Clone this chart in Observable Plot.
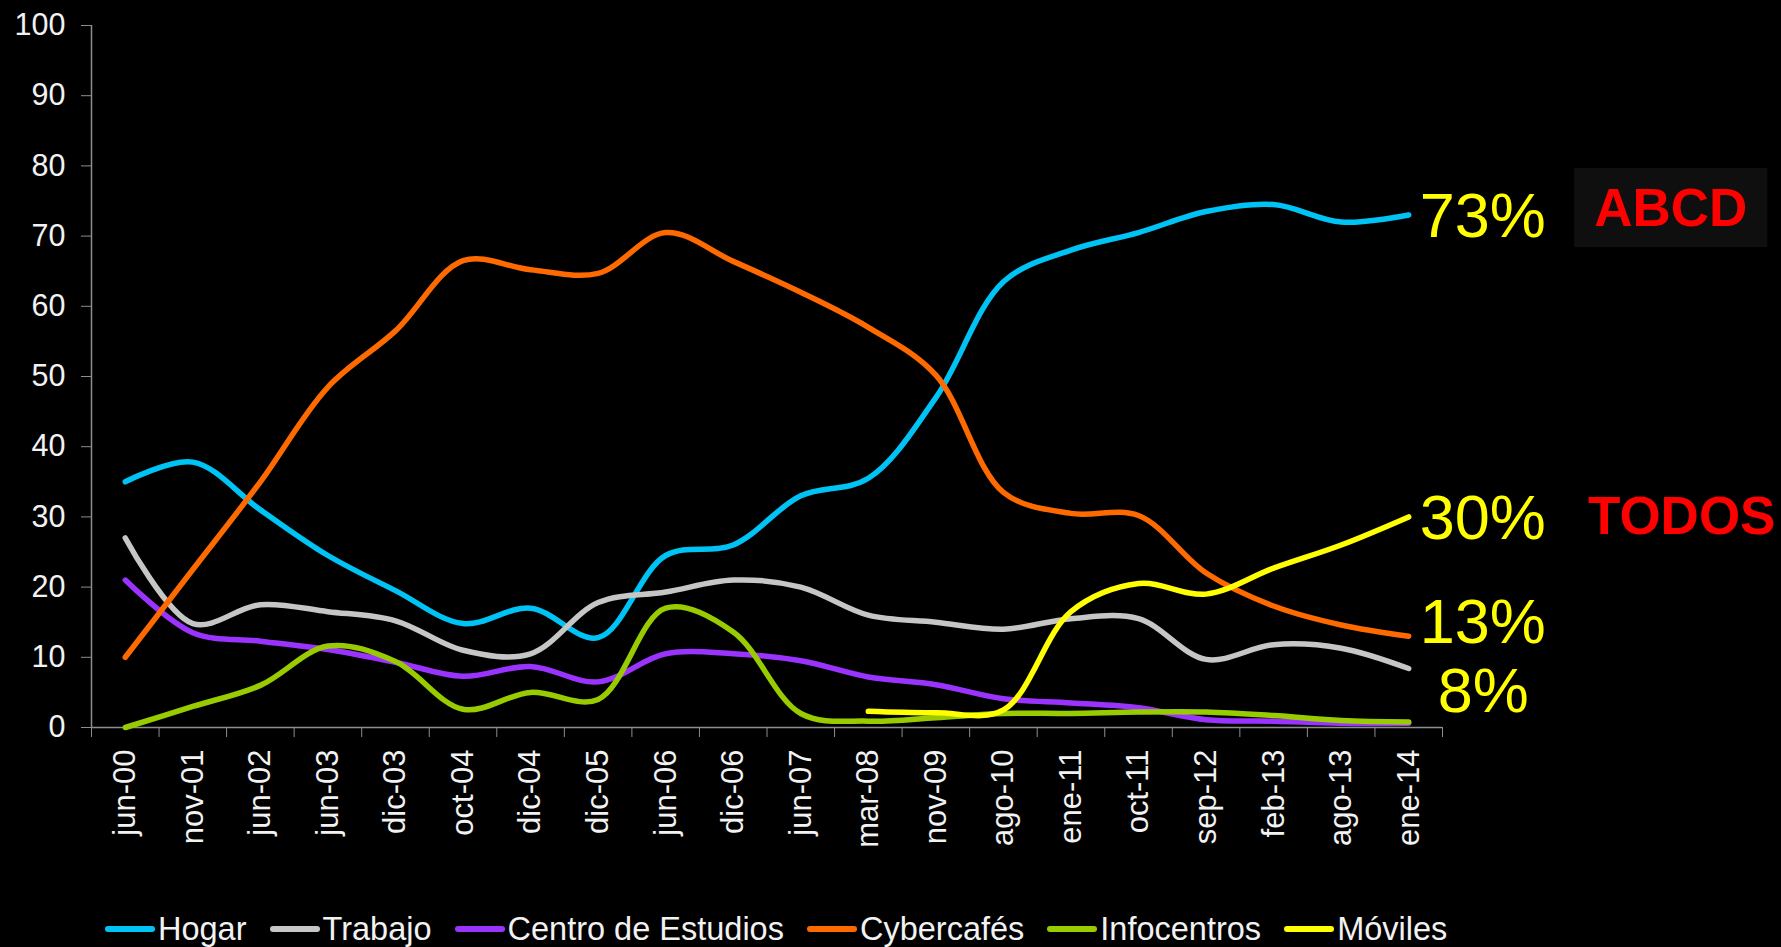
<!DOCTYPE html>
<html><head><meta charset="utf-8">
<script src="https://cdn.jsdelivr.net/npm/d3@7"></script>
<script src="https://cdn.jsdelivr.net/npm/@observablehq/plot@0.6"></script>
<style>
html,body{margin:0;padding:0;background:#000;}
body{width:1781px;height:947px;overflow:hidden;position:relative;font-family:"Liberation Sans",Arial,sans-serif;}
#chart{position:absolute;left:0;top:0;}
#legend{position:absolute;left:105px;top:907px;display:flex;align-items:center;color:#f2f2f2;font-size:32.5px;line-height:44px;white-space:nowrap;}
.item{display:flex;align-items:center;margin-right:23px;}
.sw{display:inline-block;width:50px;height:6px;border-radius:3px;margin-right:3px;}
</style>
</head><body>
<div id="chart"></div>
<div id="legend"></div>
<script>
// ---- data ----
const periods = ["jun-00","nov-01","jun-02","jun-03","dic-03","oct-04","dic-04","dic-05","jun-06","dic-06","jun-07","mar-08","nov-09","ago-10","ene-11","oct-11","sep-12","feb-13","ago-13","ene-14"];
const hogar    = [35, 37.8, 31, 24.5, 19.5, 14.8, 17, 12.8, 24.5, 26, 33, 35.5, 47, 63.5, 68, 70.5, 73.5, 74.5, 72, 73];
const trabajo  = [27, 14.8, 17.5, 16.5, 15.2, 11, 10.5, 17.8, 19.3, 21, 20, 16, 15, 14, 15.5, 15.5, 9.7, 11.8, 11.3, 8.4];
const centro   = [21, 13.5, 12.3, 11.1, 9.3, 7.3, 8.7, 6.5, 10.5, 10.5, 9.5, 7.2, 6.1, 4.1, 3.5, 2.8, 1.1, 0.9, 0.6, 0.6];
const cyber    = [10, 22.5, 35, 48.5, 56.5, 66.5, 65.2, 64.7, 70.5, 66.4, 62, 57, 50.2, 33.5, 30.5, 30.2, 22, 17.3, 14.6, 13];
const info     = [0, 3, 6, 11.6, 9.4, 2.6, 5, 4, 17, 13.6, 2, 0.9, 1.4, 2, 2, 2.2, 2.2, 1.7, 1, 0.8];
const moviles  = [null, null, null, null, null, null, null, null, null, null, null, 2.3, 2.1, 2.5, 16.5, 20.5, 19, 22.7, 26, 30];
const seriesNames  = ["Hogar","Trabajo","Centro de Estudios","Cybercafés","Infocentros","Móviles"];
const seriesValues = [hogar, trabajo, centro, cyber, info, moviles];
const seriesColors = ["#00c3f5","#c6c6c6","#9b33ff","#ff6a00","#99cc00","#ffff00"];
const yTicks = d3.range(0, 101, 10);
const groupA = "ABCD";
const groupB = "TODOS";

// ---- table ----
const rows = [];
seriesNames.forEach((name, k) => seriesValues[k].forEach((v, i) => { if (v != null) rows.push({serie: name, i, v}); }));
const last = periods.length - 1;
const pct = d => Math.round(d) + "%";
const axisGrey = "#8e8e8e";
const txt = "#f2f2f2";

const chart = Plot.plot({
  width: 1781, height: 880,
  marginLeft: 91, marginRight: 339, marginTop: 25, marginBottom: 153,
  style: {background: "#000", color: txt, fontFamily: "'Liberation Sans', Arial, sans-serif", overflow: "visible"},
  x: {type: "linear", domain: [-0.5, periods.length - 0.5]},
  y: {domain: [0, 100]},
  color: {domain: seriesNames, range: seriesColors},
  marks: [
    Plot.axisY({ticks: yTicks, tickSize: 10, tickPadding: 16, fontSize: 30.5, stroke: axisGrey, fill: txt, label: null}),
    Plot.axisX({ticks: d3.range(-0.5, periods.length, 1), tickSize: 10, tickFormat: () => "", stroke: axisGrey, label: null}),
    Plot.axisX({ticks: d3.range(periods.length), tickSize: 0, tickPadding: 22, tickRotate: -90, tickFormat: i => periods[i], fontSize: 31, fill: txt, label: null}),
    Plot.ruleX([-0.5], {stroke: axisGrey, strokeWidth: 1.5}),
    Plot.ruleY([0], {stroke: axisGrey, strokeWidth: 1.5}),
    Plot.line(rows, {x: "i", y: "v", z: "serie", stroke: "serie", strokeWidth: 5.5, curve: "catmull-rom", strokeLinecap: "round"}),
    Plot.text([hogar[last]], {x: () => last, y: d => d, text: pct, dx: 11, dy: 2, textAnchor: "start", fontSize: 63, fill: "#ffff00"}),
    Plot.text([moviles[last]], {x: () => last, y: d => d, text: pct, dx: 11, dy: 2, textAnchor: "start", fontSize: 63, fill: "#ffff00"}),
    Plot.text([cyber[last]], {x: () => last, y: d => d, text: pct, dx: 11, dy: -13, textAnchor: "start", fontSize: 63, fill: "#ffff00"}),
    Plot.text([trabajo[last]], {x: () => last, y: d => d, text: pct, dx: 29, dy: 23, textAnchor: "start", fontSize: 63, fill: "#ffff00"}),
    Plot.text([groupA], {x: () => last, y: () => hogar[last], text: d => d, dx: 262, dy: -6, textAnchor: "middle", fontSize: 53, fontWeight: "bold", fill: "#ff0000", className: "grpA"}),
    Plot.text([groupB], {x: () => last, y: () => moviles[last], text: d => d, dx: 273, dy: 0, textAnchor: "middle", fontSize: 53, fontWeight: "bold", fill: "#ff0000"})
  ]
});
document.getElementById("chart").appendChild(chart);

// dark box behind ABCD
const grpText = chart.querySelector(".grpA text") || chart.querySelector("g.grpA text");
if (grpText) {
  const b = grpText.getBBox();
  const ctm = grpText.getCTM();
  const svgNS = "http://www.w3.org/2000/svg";
  const r = document.createElementNS(svgNS, "rect");
  r.setAttribute("x", b.x - 20); r.setAttribute("y", b.y - 10);
  r.setAttribute("width", b.width + 40); r.setAttribute("height", b.height + 20);
  r.setAttribute("fill", "#0f0f0f");
  if (ctm) r.setAttribute("transform", `matrix(${ctm.a},${ctm.b},${ctm.c},${ctm.d},${ctm.e},${ctm.f})`);
  chart.insertBefore(r, chart.querySelector(".grpA"));
}

// legend
const lg = document.getElementById("legend");
seriesNames.forEach((name, k) => {
  const it = document.createElement("span"); it.className = "item";
  const sw = document.createElement("span"); sw.className = "sw"; sw.style.background = seriesColors[k];
  const t = document.createElement("span"); t.textContent = name;
  it.appendChild(sw); it.appendChild(t); lg.appendChild(it);
});
</script>
</body></html>
